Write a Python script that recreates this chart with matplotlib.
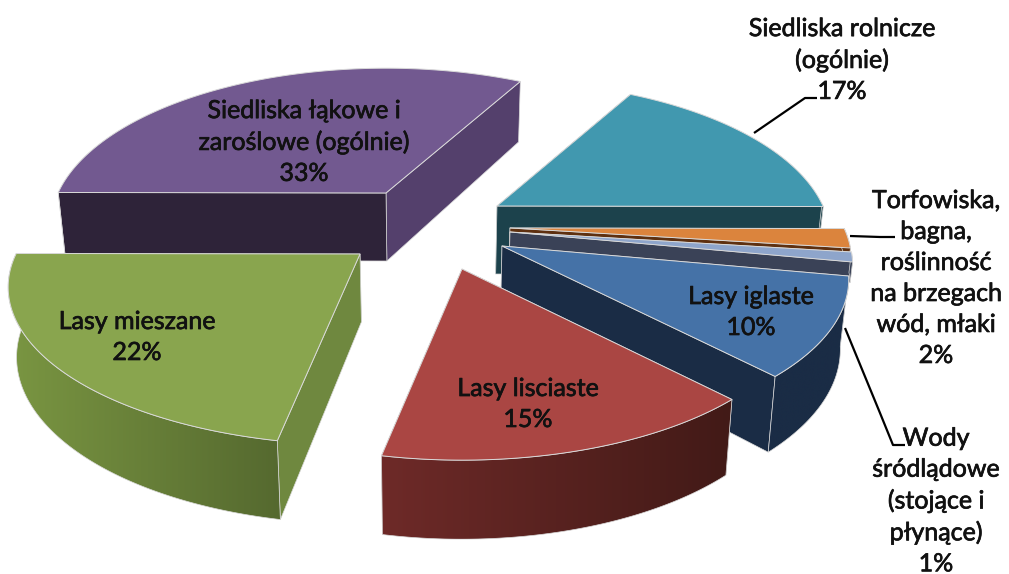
import numpy as np
import matplotlib
matplotlib.use("Agg")
import matplotlib.pyplot as plt
import matplotlib.patheffects as pe
from matplotlib.colors import LinearSegmentedColormap
from matplotlib.patches import Polygon

plt.rcParams["font.family"] = ["Lato", "DejaVu Sans"]

# data, clockwise from the first slice
names = ["Siedliska rolnicze", "Torfowiska", "Wody", "Lasy iglaste", "Lasy lisciaste", "Lasy mieszane", "Siedliska lakowe"]
values = [17, 2, 1, 10, 15, 22, 33]

# exploded slice tips in pixels
tip_x = [497, 510, 510, 502, 462, 360, 386]
tip_y = [206, 228, 232, 246, 269, 254, 193]
radius_x = [326, 334, 335, 339, 335, 344, 328]
wall_depth = [68, 20, 20, 68, 68, 68, 68]

top_colors = ["#4198af", "#db843d", "#8ea5cb", "#4572a7", "#aa4643", "#89a54e", "#725990"]
cut_colors = ["#1c424c", "#5e3010", "#3a4257", "#1a2c45", "#6b2826", "#6f883f", "#54406c"]
wall_left = ["#1c424c", "#5e3010", "#3a4257", "#1a2c45", "#6e2a28", "#7a9642", "#2e2339"]
wall_right = ["#1c424c", "#5e3010", "#3a4257", "#1a2c45", "#421a17", "#55692f", "#2e2339"]
front_color = "#2e2339"

# pie projection
start_angle = 61
ry, persp = 151, 0.21
depth_persp = 0.14
cx_view = 430
shrink = 0.98


def top_point(i, ang):
    a = np.radians(ang)
    f = 1 + persp * np.sin(a)
    return tip_x[i] + radius_x[i] * np.cos(a) / f, tip_y[i] - ry * np.sin(a) / f


def low_point(i, x, y, ang):
    d = wall_depth[i] / (1 + depth_persp * np.sin(np.radians(ang)))
    k = 1 - (1 - shrink) * wall_depth[i] / 68
    return cx_view + (x - cx_view) * k, y + d


fig = plt.figure(figsize=(10.09, 5.74), dpi=100)
ax = fig.add_axes([0, 0, 1, 1])

edges = start_angle - np.cumsum([0] + values) * 3.6
order = [6, 0, 1, 2, 3, 5, 4]
edge_line = "#d9d9d9"

for n, i in enumerate(order):
    a0, a1 = edges[i], edges[i + 1]
    tipx, tipy = tip_x[i], tip_y[i]
    z = n * 10
    angs = np.linspace(a0, a1, 120)
    arc = [top_point(i, a) for a in angs]
    tip_low = low_point(i, tipx, tipy, 0)

    # flat cut faces, the one further back first
    faces = sorted([a0, a1], key=lambda a: -np.sin(np.radians(a)))
    for k, a in enumerate(faces):
        x, y = top_point(i, a)
        xl, yl = low_point(i, x, y, a)
        col = front_color if (i == 6 and k == 1) else cut_colors[i]
        ax.add_patch(Polygon([(tipx, tipy), (x, y), (xl, yl), tip_low], fc=col, ec=edge_line, lw=0.5, zorder=z + 1))

    # outer wall with a left to right fade
    front = [j for j in range(len(angs)) if np.sin(np.radians(angs[j])) <= 0.02]
    upper = [arc[j] for j in front]
    lower = [low_point(i, arc[j][0], arc[j][1], angs[j]) for j in front]
    wall = Polygon(upper + lower[::-1], fc="none", ec=edge_line, lw=0.5, zorder=z + 2.5)
    ax.add_patch(wall)
    xs = [p[0] for p in upper + lower]
    ys = [p[1] for p in upper + lower]
    cmap = LinearSegmentedColormap.from_list("wall%d" % i, [wall_left[i], wall_right[i]])
    ax.imshow(np.linspace(0, 1, 256).reshape(1, -1), cmap=cmap, aspect="auto", extent=[min(xs), max(xs), max(ys), min(ys)], clip_path=wall, zorder=z + 2)

    # top of the slice
    ax.add_patch(Polygon([(tipx, tipy)] + arc, fc=top_colors[i], ec=edge_line, lw=0.7, joinstyle="round", zorder=z + 3))

ax.set_xlim(0, 1009)
ax.set_ylim(574, 0)
ax.axis("off")

# leader lines
leader_x = [[754, 805, 817], [850, 880, 895], [845, 880, 893, 905]]
leader_y = [[133, 98, 98], [236, 237, 237], [328, 413, 445, 445]]
for lx, ly in zip(leader_x, leader_y):
    ax.plot(lx, ly, color="black", lw=1.6, zorder=100, solid_capstyle="butt")

# labels
labels = [
    ("Siedliska łąkowe i\nzaroślowe (ogólnie)\n33%", 304, 142),
    ("Siedliska rolnicze\n(ogólnie)\n17%", 842, 60),
    ("Torfowiska,\nbagna,\nroślinność\nna brzegach\nwód, młaki\n2%", 936, 278),
    ("Lasy iglaste\n10%", 751, 312),
    ("Lasy mieszane\n22%", 137, 337),
    ("Lasy lisciaste\n15%", 528, 404),
    ("Wody\nśródlądowe\n(stojące i\npłynące)\n1%", 936, 501),
]
for txt, x, y in labels:
    ax.text(x, y, txt, ha="center", va="center", ma="center", fontsize=18, linespacing=1.42, color="#111111", zorder=110,
            path_effects=[pe.withStroke(linewidth=0.5, foreground="#111111")])

fig.savefig("out.png", dpi=100)
